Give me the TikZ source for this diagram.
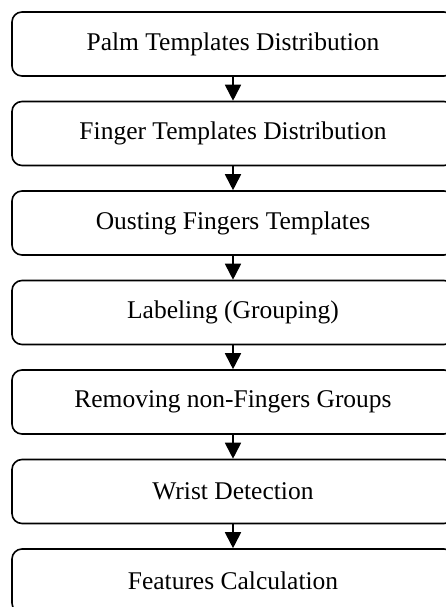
\documentclass[tikz,border=0pt]{standalone}
\usepackage{fontspec}
\setmainfont{Liberation Serif}
\usetikzlibrary{positioning,arrows.meta}

\begin{document}
\begin{tikzpicture}[node distance=89.5pt,
	main/.style = {draw, line width=1.6pt, rounded corners=10pt, minimum width=442pt, minimum height=64pt, inner sep=0pt, font=\fontsize{25.5}{30}\selectfont},
	edge/.style = {->, line width=1.8pt, > = {Triangle[length=16pt,width=16pt]}}]

	\clip (0,0) rectangle (446pt,-607pt);

	\node[main] (1) at (233pt,-44pt) {Palm Templates Distribution};
	\node[main] (2) [below of=1] {Finger Templates Distribution};
	\node[main] (3) [below of=2] {Ousting Fingers Templates};
	\node[main] (4) [below of=3] {Labeling (Grouping)};
	\node[main] (5) [below of=4] {Removing non-Fingers Groups};
	\node[main] (6) [below of=5] {Wrist Detection};
	\node[main] (7) [below of=6] {Features Calculation};

	\path[edge]
	(1) edge (2)
	(2) edge (3)
	(3) edge (4)
	(4) edge (5)
	(5) edge (6)
	(6) edge (7);

\end{tikzpicture}
\end{document}
